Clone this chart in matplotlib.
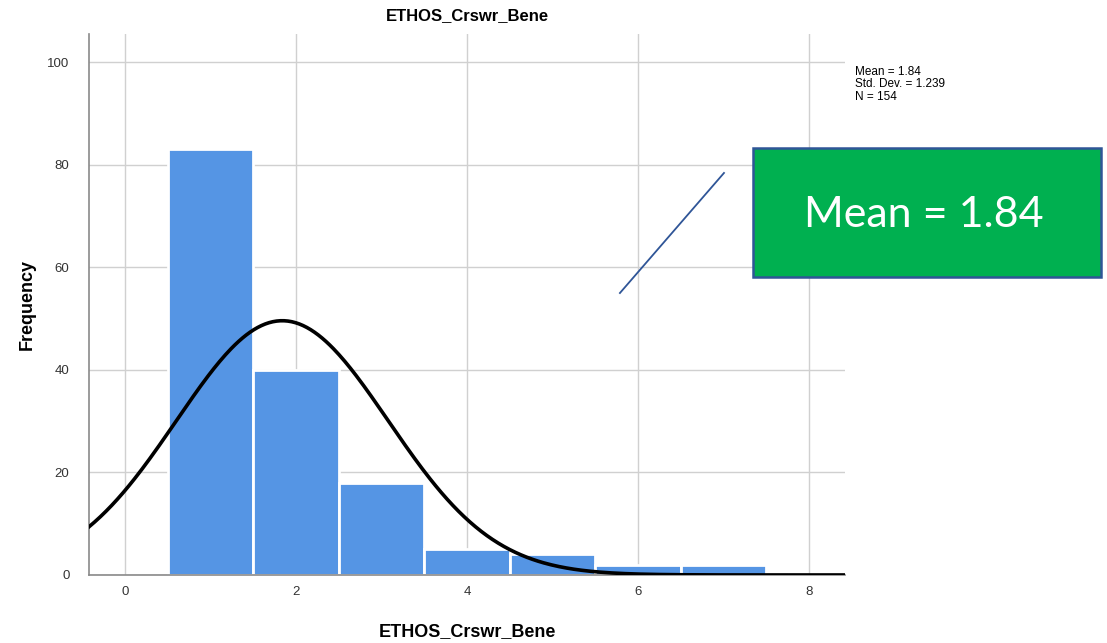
import numpy as np
import matplotlib
matplotlib.use('Agg')
import matplotlib.pyplot as plt
from matplotlib.patches import Rectangle
from matplotlib.lines import Line2D

# histogram data
values = [1, 2, 3, 4, 5, 6, 7]
counts = [83, 40, 18, 5, 4, 2, 2]
mean = 1.84
std = 1.239
n = 154
var_name = 'ETHOS_Crswr_Bene'

plt.rcParams['font.family'] = ['Liberation Sans', 'DejaVu Sans']

fig = plt.figure(figsize=(11.07, 6.43), dpi=100)
ax = fig.add_axes([0.0804, 0.1058, 0.6829, 0.8413])

ax.bar(values, counts, width=1.0, color='#5595E4', edgecolor='white', linewidth=2.0, zorder=2)

xs = np.linspace(-0.42, 8.42, 400)
ys = n * 1.0 / (std * np.sqrt(2 * np.pi)) * np.exp(-0.5 * ((xs - mean) / std) ** 2)
ax.plot(xs, ys, color='black', linewidth=2.6, zorder=3)

ax.set_xlim(-0.42, 8.42)
ax.set_ylim(0, 105.5)
ax.set_xticks([0, 2, 4, 6, 8])
ax.set_yticks([0, 20, 40, 60, 80, 100])
ax.grid(True, color='#d0d0d0', linewidth=1.0, zorder=0)
ax.set_axisbelow(True)
for s in ['top', 'right']:
    ax.spines[s].set_visible(False)
for s in ['left', 'bottom']:
    ax.spines[s].set_color('#8a8a8a')
    ax.spines[s].set_linewidth(1.2)
ax.tick_params(length=0, labelsize=9.5, colors='#333333', pad=8)
ax.tick_params(axis='y', pad=14)

ax.set_title(var_name, fontsize=12, fontweight='bold', pad=10)
ax.set_xlabel(var_name, fontsize=13, fontweight='bold', labelpad=18)
ax.set_ylabel('Frequency', fontsize=13, fontweight='bold', labelpad=8)

fig.text(0.772, 0.897, 'Mean = %.2f\nStd. Dev. = %.3f\nN = %d' % (mean, std, n),
         fontsize=8.5, va='top', ha='left', linespacing=1.02)

# callout box added on top of the chart
fig.add_artist(Line2D([0.560, 0.654], [0.5443, 0.731], color='#2F5597', linewidth=1.3))
fig.add_artist(Rectangle((0.680, 0.569), 0.315, 0.2006, facecolor='#00B050',
                         edgecolor='#2F5597', linewidth=1.8))
fig.text(0.8345, 0.665, 'Mean = %.2f' % mean, fontsize=31, color='white',
         ha='center', va='center', family=['Lato', 'DejaVu Sans'])

fig.savefig('out.png', dpi=100)
